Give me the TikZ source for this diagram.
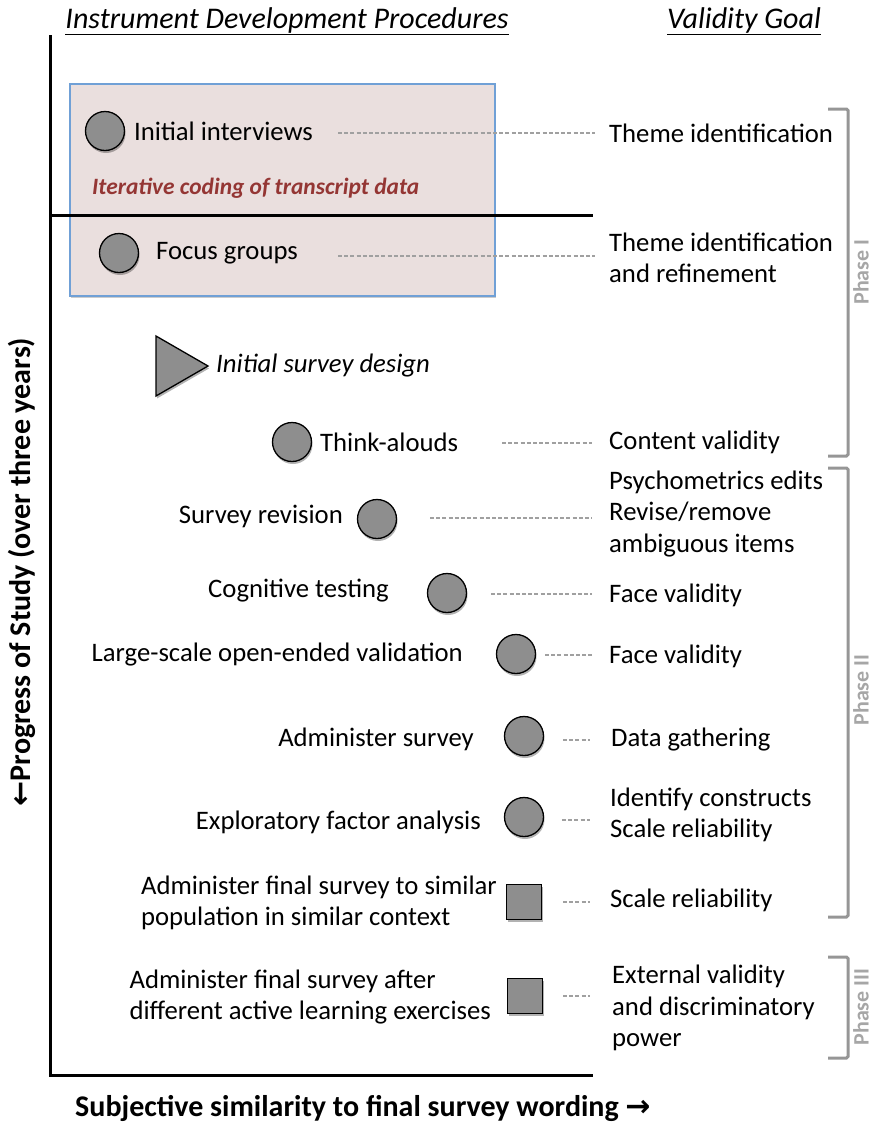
\documentclass[tikz,border=0pt]{standalone}
\usepackage{fontspec}
\setmainfont{Carlito}
\newfontfamily\arrowfont{DejaVu Sans}
\usetikzlibrary{shadows,calc}
\definecolor{boxfill}{RGB}{234,223,222}
\definecolor{boxline}{RGB}{112,160,214}
\definecolor{codered}{RGB}{148,54,52}
\definecolor{dotfill}{RGB}{142,142,142}
\definecolor{dashgray}{RGB}{160,160,160}
\definecolor{brgray}{RGB}{150,150,150}
\definecolor{phgray}{RGB}{166,166,166}
\begin{document}
\begin{tikzpicture}[x=1pt,y=-1pt,
  font=\fontsize{26.7}{31.5}\selectfont,
  lbl/.style={inner sep=0pt, align=left},
  dot/.style={circle, minimum size=39pt, inner sep=0pt, fill=dotfill, draw=black, line width=1.3pt,
    drop shadow={shadow xshift=1pt, shadow yshift=-2.5pt, opacity=0.3, fill=black}},
  sq/.style={rectangle, minimum size=35pt, inner sep=0pt, fill=dotfill, draw=black, line width=1.3pt,
    drop shadow={shadow xshift=1pt, shadow yshift=-2.5pt, opacity=0.3, fill=black}},
  dashline/.style={draw=dashgray, line width=1.4pt, dash pattern=on 4pt off 2.2pt},
  axis/.style={line width=3pt, black},
  bracket/.style={draw=brgray, line width=3pt, rounded corners=1.5pt},
  phase/.style={rotate=90, text=phgray, font=\fontsize{22}{26}\selectfont\bfseries, inner sep=0pt},
  head/.style={inner sep=0pt, font=\fontsize{30}{34}\selectfont\itshape},
  axlab/.style={inner sep=0pt, font=\fontsize{30}{34}\selectfont\bfseries}
]
\useasboundingbox (0,0) rectangle (874,1125);

% titles
\node[head] (h1) at (287,21) {\underline{Instrument Development Procedures}};
\node[head] (h2) at (744,21) {\underline{Validity Goal}};

% pink box
\node[draw=boxline, fill=boxfill, line width=1.2pt, minimum width=425pt, minimum height=212pt,
  drop shadow={shadow xshift=1pt, shadow yshift=-2pt, opacity=0.2, fill=black}] (box) at (282.5,190) {};

% axes
\coordinate (ytop) at (50,35);
\coordinate (orig) at (50,1075);
\coordinate (xend) at (593,1075);
\coordinate (mida) at (50,215);
\coordinate (midb) at (593,215);
\draw[axis] (ytop) -- (orig) -- (xend);
\draw[axis] (mida) -- (midb);

% axis labels
\node[axlab, rotate=90] (ylab) at (22,572) {{\arrowfont\bfseries ←}Progress of Study (over three years)};
\node[axlab, anchor=west] (xlab) at (75,1108) {Subjective similarity to final survey wording {\arrowfont\bfseries →}};

% row 1
\node[dot] (c1) at (105,131) {};
\node[lbl, anchor=west] (t1) at (134,131) {Initial interviews};
\node[lbl, anchor=west] (g1) at (609,133) {Theme identification};
\coordinate (d1a) at (338,133); \coordinate (d1b) at (595,133);
\draw[dashline] (d1a) -- (d1b);

\node[lbl, anchor=west, text=codered, font=\fontsize{23.4}{27}\selectfont\bfseries\itshape] (iter) at (92,188) {Iterative coding of transcript data};

% row 2
\node[dot] (c2) at (119,253) {};
\node[lbl, anchor=west] (t2) at (156,253) {Focus groups};
\node[lbl, anchor=west] (g2) at (609,258) {Theme identification\\and refinement};
\coordinate (d2a) at (338,256); \coordinate (d2b) at (595,256);
\draw[dashline] (d2a) -- (d2b);

% triangle
\coordinate (tra) at (156,336); \coordinate (trb) at (208,366); \coordinate (trc) at (156,396);
\fill[black, opacity=0.3] ([shift={(1,2.5)}]tra) -- ([shift={(1,2.5)}]trb) -- ([shift={(1,2.5)}]trc) -- cycle;
\draw[fill=dotfill, line width=1.3pt] (tra) -- (trb) -- (trc) -- cycle;
\node[lbl, anchor=west] (t3) at (216,366) {\itshape Initial survey design};

% row 4
\node[dot] (c4) at (292,442) {};
\node[lbl, anchor=west] (t4) at (320,442) {Think-alouds};
\node[lbl, anchor=west] (g4) at (609,442) {Content validity};
\coordinate (d4a) at (502,443); \coordinate (d4b) at (592,443);
\draw[dashline] (d4a) -- (d4b);

% row 5
\node[lbl, anchor=east] (t5) at (343,516) {Survey revision};
\node[dot] (c5) at (377,519) {};
\node[lbl, anchor=west] (g5) at (609,514) {Psychometrics edits\\Revise/remove\\ambiguous items};
\coordinate (d5a) at (430,518); \coordinate (d5b) at (592,518);
\draw[dashline] (d5a) -- (d5b);

% row 6
\node[lbl, anchor=east] (t6) at (389,591) {Cognitive testing};
\node[dot] (c6) at (447,593) {};
\node[lbl, anchor=west] (g6) at (609,595) {Face validity};
\coordinate (d6a) at (491,594); \coordinate (d6b) at (592,594);
\draw[dashline] (d6a) -- (d6b);

% row 7
\node[lbl, anchor=east] (t7) at (463,655) {Large-scale open-ended validation};
\node[dot] (c7) at (516,654) {};
\node[lbl, anchor=west] (g7) at (609,656) {Face validity};
\coordinate (d7a) at (545,655); \coordinate (d7b) at (592,655);
\draw[dashline] (d7a) -- (d7b);

% row 8
\node[lbl, anchor=east] (t8) at (474,739) {Administer survey};
\node[dot] (c8) at (524,736) {};
\node[lbl, anchor=west] (g8) at (611,740) {Data gathering};
\coordinate (d8a) at (563,740); \coordinate (d8b) at (590,740);
\draw[dashline] (d8a) -- (d8b);

% row 9
\node[lbl, anchor=east] (t9) at (481,822) {Exploratory factor analysis};
\node[dot] (c9) at (524,817) {};
\node[lbl, anchor=west] (g9) at (610,815) {Identify constructs\\Scale reliability};
\coordinate (d9a) at (562,820); \coordinate (d9b) at (590,820);
\draw[dashline] (d9a) -- (d9b);

% row 10
\node[lbl, anchor=east] (t10) at (497,903) {Administer final survey to similar\\population in similar context};
\node[sq] (s10) at (524,902) {};
\node[lbl, anchor=west] (g10) at (610,900) {Scale reliability};
\coordinate (d10a) at (563,902); \coordinate (d10b) at (590,902);
\draw[dashline] (d10a) -- (d10b);

% row 11
\node[lbl, anchor=east] (t11) at (491,997) {Administer final survey after\\different active learning exercises};
\node[sq] (s11) at (525,996) {};
\node[lbl, anchor=west] (g11) at (612,1008) {External validity\\and discriminatory\\power};
\coordinate (d11a) at (563,996); \coordinate (d11b) at (590,996);
\draw[dashline] (d11a) -- (d11b);

% brackets
\coordinate (b1a) at (828,109); \coordinate (b1b) at (848,109);
\coordinate (b1c) at (848,456); \coordinate (b1d) at (828,456);
\draw[bracket] (b1a) -- (b1b) -- (b1c) -- (b1d);
\node[phase] (p1) at (861,272) {Phase I};

\coordinate (b2a) at (828,468); \coordinate (b2b) at (848,468);
\coordinate (b2c) at (848,917); \coordinate (b2d) at (828,917);
\draw[bracket] (b2a) -- (b2b) -- (b2c) -- (b2d);
\node[phase] (p2) at (861,690) {Phase II};

\coordinate (b3a) at (828,957); \coordinate (b3b) at (848,957);
\coordinate (b3c) at (848,1058); \coordinate (b3d) at (828,1058);
\draw[bracket] (b3a) -- (b3b) -- (b3c) -- (b3d);
\node[phase] (p3) at (861,1007) {Phase III};
\end{tikzpicture}
\end{document}
